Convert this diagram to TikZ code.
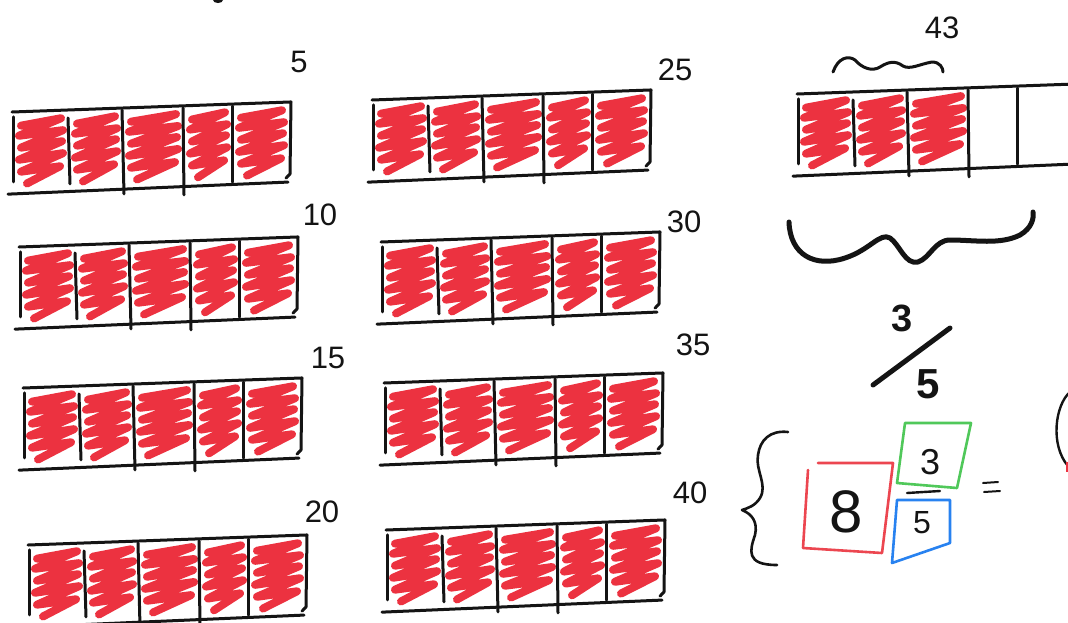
\documentclass[tikz,border=0pt]{standalone}
\usepackage{fontspec}
\setmainfont{Liberation Sans}
\definecolor{scribred}{RGB}{236,50,64}
\definecolor{boxred}{RGB}{236,70,80}
\definecolor{boxgreen}{RGB}{80,200,90}
\definecolor{boxblue}{RGB}{40,130,240}
\definecolor{inkc}{RGB}{20,20,20}
\tikzset{
  ink/.style={line width=3pt, line cap=round, line join=round, inkc},
  scribble/.style={line width=8pt, line cap=round, line join=round, scribred},
  lab/.style={font=\fontsize{31}{31}\selectfont, inner sep=0pt, inkc},
  colbox/.style={line width=2.6pt, line cap=round, line join=round},
}
% #1 x, #2 y (top-left), #3 number of filled cells
\newcommand\fivebar[3]{%
\begin{scope}[shift={(#1,#2)}, yslant=0.036]
  \foreach \a/\b [count=\i] in {0/56,56/110,110/171,171/220,220/277}{%
    \ifnum\i>#3\relax\else
      \draw[scribble] (\a+9,14) -- (\b-7,8) -- (\a+7,24) -- (\b-5,20) -- (\a+9,36) -- (\b-6,31)
        -- (\a+7,48) -- (\b-5,43) -- (\a+9,60) -- (\b-8,56) -- (\a+15,72);
    \fi}
  \draw[ink] (0,0) -- (279,0) -- (278,72) -- (274,76);
  \draw[ink] (1,5) -- (1,70);
  \draw[ink] (-4,82) -- (276,80);
  \draw[ink] (56,8) -- (58,74);
  \draw[ink] (110,2) -- (112,86);
  \draw[ink] (171,2) -- (172,89);
  \draw[ink] (220,2) -- (220,78);
\end{scope}}
\begin{document}
\begin{tikzpicture}[x=1pt,y=-1pt]
\useasboundingbox (0,0) rectangle (1068,622);
\fill[white] (0,0) rectangle (1068,622);
% left column
\fivebar{12}{112}{5}
\fivebar{19}{247}{5}
\fivebar{23}{388}{5}
\fivebar{28}{545}{5}
% middle column
\fivebar{372}{100}{5}
\fivebar{381}{242}{5}
\fivebar{384}{383}{5}
\fivebar{386}{530}{5}
% top-right bar
\fivebar{797}{94}{3}
% labels
\node[lab] (l5) at (299,62) {5};
\node[lab] (l10) at (320,215) {10};
\node[lab] (l15) at (328,358) {15};
\node[lab] (l20) at (322,512) {20};
\node[lab] (l25) at (675,70) {25};
\node[lab] (l30) at (684,222) {30};
\node[lab] (l35) at (693,345) {35};
\node[lab] (l40) at (690,493) {40};
\node[lab] (l43) at (942,28) {43};
% small mark at top
\fill[inkc] (218,0) ellipse (5 and 3);
% small squiggle brace over three cells
\draw[ink] (833,72) .. controls (838,58) and (848,55) .. (855,60)
  .. controls (862,68) and (872,72) .. (880,67)
  .. controls (888,62) and (895,60) .. (903,66)
  .. controls (910,70) and (920,64) .. (932,62)
  .. controls (940,62) and (943,68) .. (943,72);
% large curly under the bar
\draw[ink, line width=5pt] (789,222) .. controls (790,255) and (815,268) .. (845,258)
  .. controls (870,250) and (880,232) .. (890,238)
  .. controls (900,245) and (905,265) .. (918,262)
  .. controls (930,258) and (935,240) .. (950,240)
  .. controls (975,240) and (1000,245) .. (1020,235)
  .. controls (1032,228) and (1034,218) .. (1033,212);
% fraction 3/5
\node[font=\fontsize{38}{38}\selectfont\bfseries, inner sep=0pt, inkc] (fn) at (902,318) {3};
\node[font=\fontsize{42}{42}\selectfont\bfseries, inner sep=0pt, inkc] (fd) at (928,384) {5};
\draw[ink, line width=5pt] (873,385) -- (950,328);
% left brace
\draw[ink, line width=2.6pt] (788,432) .. controls (770,430) and (760,440) .. (758,455)
  .. controls (755,470) and (768,485) .. (760,498)
  .. controls (755,506) and (748,508) .. (742,510)
  .. controls (752,514) and (758,522) .. (755,535)
  .. controls (750,550) and (745,565) .. (777,565);
% mixed number 8 3/5
\node[font=\fontsize{60}{60}\selectfont, inner sep=0pt, inkc] (eight) at (846,512) {8};
\draw[colbox, boxred] (818,463) -- (893,463) -- (882,553) -- (803,548) -- (808,470);
\node[font=\fontsize{36}{36}\selectfont, inner sep=0pt, inkc] (num) at (930,462) {3};
\draw[colbox, boxgreen] (905,423) -- (971,423) -- (957,488) -- (897,483) -- (905,423);
\draw[ink, line width=2.4pt] (907,493) -- (940,491);
\node[font=\fontsize{32}{32}\selectfont, inner sep=0pt, inkc] (den) at (922,523) {5};
\draw[colbox, boxblue] (897,500) -- (950,500) -- (950,543) -- (892,563) -- (897,500);
\draw[ink, line width=2pt] (983,483) -- (998,482);
\draw[ink, line width=2pt] (984,492) -- (1000,491);
% partial parenthesis at right edge
\draw[ink, line width=2.4pt] (1070,392) .. controls (1055,405) and (1050,445) .. (1068,466);
\fill[scribred] (1066,462) rectangle (1070,472);
\end{tikzpicture}
\end{document}
